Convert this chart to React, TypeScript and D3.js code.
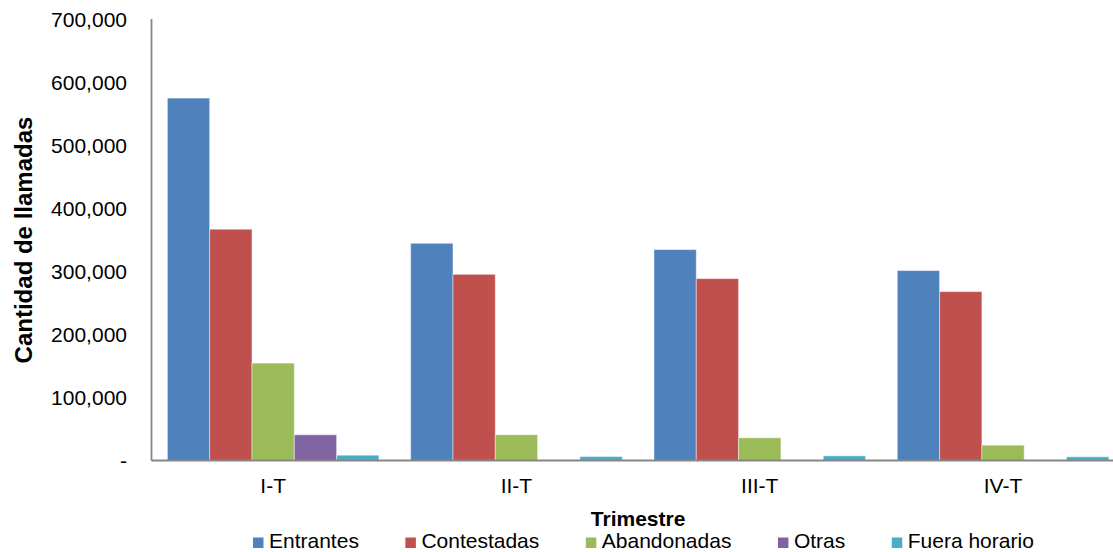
import React from "react";
import * as d3 from "d3";

const categories = ["I-T", "II-T", "III-T", "IV-T"];
const seriesNames = ["Entrantes", "Contestadas", "Abandonadas", "Otras", "Fuera horario"];
const entrantes = [574600, 344400, 334400, 301100];
const contestadas = [366700, 295200, 288400, 267800];
const abandonadas = [154400, 40800, 36000, 24300];
const otras = [40800, 0, 0, 0];
const fueraHorario = [8400, 6300, 7400, 5900];
const seriesValues = [entrantes, contestadas, abandonadas, otras, fueraHorario];
const colors = ["#4F81BD", "#C0504D", "#9BBB59", "#8064A2", "#4BACC6"];
const yTicks = [0, 100000, 200000, 300000, 400000, 500000, 600000, 700000];

const FONT = "'Liberation Sans', Arial, sans-serif";

function measure(text: string, font: string): number {
  const c = document.createElement("canvas");
  const ctx = c.getContext("2d");
  if (!ctx) return text.length * 11;
  ctx.font = font;
  return ctx.measureText(text).width;
}

export default function App() {
  const W = 1113;
  const H = 552;
  const x0 = 151.5;
  const step = 243.3;
  const x = d3.scaleBand<string>().domain(categories).range([x0, x0 + step * categories.length]).paddingInner(0).paddingOuter(0);
  const xs = d3.scaleBand<string>().domain(seriesNames).range([0, x.bandwidth()]).paddingInner(0).paddingOuter(0.375);
  const y = d3.scaleLinear().domain([0, 700000]).range([460.5, 19]);
  const fmt = (v: number) => (v === 0 ? "-" : d3.format(",")(v));

  // legend layout
  const legendFont = `21px ${FONT}`;
  let lx = 253;
  const legendItems = seriesNames.map((name, i) => {
    const item = { name, color: colors[i], x: lx };
    lx += 10.5 + 5.5 + measure(name, legendFont) + 46.5;
    return item;
  });

  return (
    <svg width={W} height={H} style={{ position: "absolute", left: 0, top: 0, background: "#fff" }} fontFamily={FONT}>
      {/* bars */}
      {categories.map((cat, ci) => (
        <g key={cat} transform={`translate(${x(cat)},0)`}>
          {seriesNames.map((s, si) => {
            const v = seriesValues[si][ci];
            if (!v) return null;
            return (
              <rect
                key={s}
                x={xs(s)}
                y={y(v)}
                width={xs.bandwidth()}
                height={y(0) - y(v)}
                fill={colors[si]}
                stroke="rgba(255,255,255,0.45)"
                strokeWidth={1}
              />
            );
          })}
        </g>
      ))}
      {/* axes */}
      <line x1={x0} x2={x0} y1={19} y2={y(0)} stroke="#868686" strokeWidth={1.8} />
      <line x1={x0} x2={W} y1={y(0)} y2={y(0)} stroke="#868686" strokeWidth={2} />
      {yTicks.map((t) => (
        <text key={t} x={127} y={y(t)} dy="0.36em" textAnchor="end" fontSize={21} fill="#000">
          {fmt(t)}
        </text>
      ))}
      {categories.map((c) => (
        <text key={c} x={(x(c) as number) + x.bandwidth() / 2} y={493.3} textAnchor="middle" fontSize={21} fill="#000">
          {c}
        </text>
      ))}
      <text x={(x0 + x0 + step * 4) / 2} y={526} textAnchor="middle" fontSize={21} fontWeight="bold">
        Trimestre
      </text>
      <text transform={`translate(31.5,240) rotate(-90)`} textAnchor="middle" fontSize={24} fontWeight="bold">
        Cantidad de llamadas
      </text>
      {legendItems.map((it) => (
        <g key={it.name}>
          <rect x={it.x} y={537.5} width={10.5} height={10.5} fill={it.color} />
          <text x={it.x + 16} y={548.3} fontSize={21} fill="#000">
            {it.name}
          </text>
        </g>
      ))}
    </svg>
  );
}
